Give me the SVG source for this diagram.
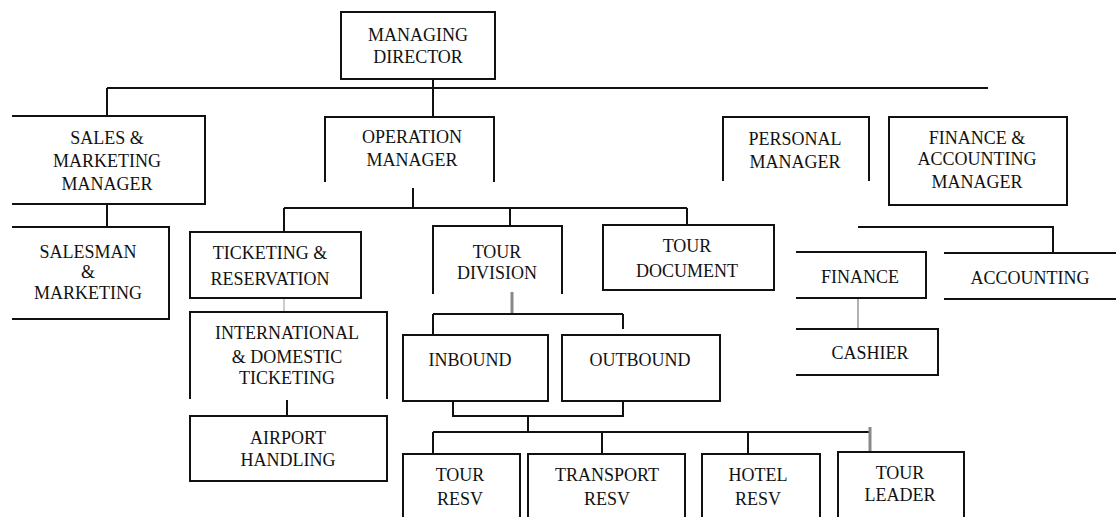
<svg xmlns="http://www.w3.org/2000/svg" width="1116" height="517" viewBox="0 0 1116 517">
<style>
.b{fill:none;stroke:#111;stroke-width:2}
.c{fill:none;stroke:#111;stroke-width:2}
.g1{fill:none;stroke:#aaa;stroke-width:1.2}
.g2{fill:none;stroke:#888;stroke-width:3}
.g3{fill:none;stroke:#999;stroke-width:1.5}
text{font-family:"Liberation Serif","Times New Roman",serif;font-size:18px;fill:#111;text-anchor:middle}
</style>
<rect width="1116" height="517" fill="#fff"/>
<g id="connectors">
<path class="c" d="M433,79V117M107,88H988M107,88V116"/>
<path class="c" d="M107,204V227"/>
<path class="c" d="M413,188V208M284,208H687M284,208V232M510,208V226M687,208V225"/>
<path class="g1" d="M284,298V312"/>
<path class="c" d="M287,400V416"/>
<path class="g2" d="M512,292V314"/>
<path class="c" d="M433,314H623M433,314V335M623,314V329"/>
<path class="c" d="M453,401V416H623V401M528,416V432M433,432H870M433,432V454M602,432V454M748,432V454"/>
<path class="g2" d="M870,427V452"/>
<path class="c" d="M858,227H1053V253"/>
<path class="g3" d="M858,298V328"/>
</g>
<g id="md"><rect class="b" x="341" y="12" width="154" height="67"/><text x="418" y="41">MANAGING</text><text x="418" y="63">DIRECTOR</text></g>
<g id="sales"><path class="b" d="M12,116H205V204H12"/><text x="107" y="144">SALES &amp;</text><text x="107" y="167">MARKETING</text><text x="107" y="190">MANAGER</text></g>
<g id="salesman"><path class="b" d="M12,227H169V319H12"/><text x="88" y="258">SALESMAN</text><text x="88" y="278">&amp;</text><text x="88" y="299">MARKETING</text></g>
<g id="operation"><path class="b" d="M325,182V117H494V182"/><text x="412" y="143">OPERATION</text><text x="412" y="166">MANAGER</text></g>
<g id="personal"><path class="b" d="M723,181V117H869V181"/><text x="795" y="145">PERSONAL</text><text x="795" y="168">MANAGER</text></g>
<g id="finacc"><rect class="b" x="889" y="117" width="178" height="88"/><text x="977" y="144">FINANCE &amp;</text><text x="977" y="165">ACCOUNTING</text><text x="977" y="188">MANAGER</text></g>
<g id="ticketing"><rect class="b" x="190" y="232" width="171" height="66"/><text x="270" y="259">TICKETING &amp;</text><text x="270" y="285">RESERVATION</text></g>
<g id="international"><path class="b" d="M190,399V312H387V399"/><text x="287" y="339">INTERNATIONAL</text><text x="287" y="363">&amp; DOMESTIC</text><text x="287" y="384">TICKETING</text></g>
<g id="airport"><rect class="b" x="190" y="416" width="197" height="65"/><text x="288" y="444">AIRPORT</text><text x="288" y="466">HANDLING</text></g>
<g id="tourdiv"><path class="b" d="M433,294V226H562V294"/><text x="497" y="258">TOUR</text><text x="497" y="279">DIVISION</text></g>
<g id="tourdoc"><rect class="b" x="603" y="225" width="171" height="65"/><text x="687" y="252">TOUR</text><text x="687" y="277">DOCUMENT</text></g>
<g id="inbound"><rect class="b" x="403" y="335" width="145" height="66"/><text x="470" y="366">INBOUND</text></g>
<g id="outbound"><rect class="b" x="562" y="335" width="158" height="66"/><text x="640" y="366">OUTBOUND</text></g>
<g id="tourresv"><rect class="b" x="403" y="454" width="117" height="80"/><text x="460" y="481">TOUR</text><text x="460" y="505">RESV</text></g>
<g id="transport"><rect class="b" x="528" y="454" width="157" height="80"/><text x="607" y="481">TRANSPORT</text><text x="607" y="505">RESV</text></g>
<g id="hotel"><rect class="b" x="702" y="454" width="118" height="80"/><text x="758" y="481">HOTEL</text><text x="758" y="505">RESV</text></g>
<g id="tourleader"><rect class="b" x="838" y="452" width="126" height="80"/><text x="900" y="479">TOUR</text><text x="900" y="501">LEADER</text></g>
<g id="finance"><path class="b" d="M796,252H926V298H796"/><text x="860" y="283">FINANCE</text></g>
<g id="accounting"><path class="b" d="M944,253H1116M944,299H1116"/><text x="1030" y="284">ACCOUNTING</text></g>
<g id="cashier"><path class="b" d="M796,329H938V375H796"/><text x="870" y="359">CASHIER</text></g>
</svg>
